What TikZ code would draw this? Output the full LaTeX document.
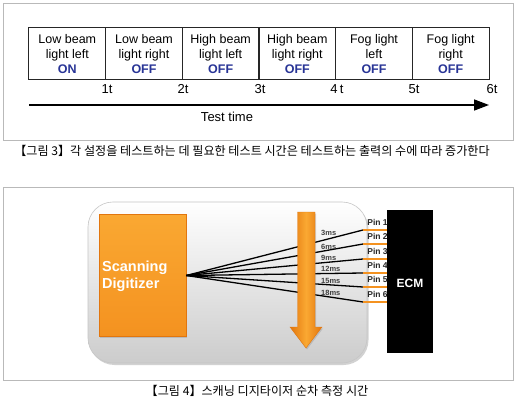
\documentclass[tikz,border=0pt]{standalone}
\usepackage{fontspec}
\setmainfont{Liberation Sans}
\newfontfamily\krfont{Noto Sans CJK KR}
\usetikzlibrary{arrows.meta,shadows}
\definecolor{onblue}{RGB}{40,52,150}
\definecolor{orngl}{RGB}{250,168,50}
\definecolor{orngm}{RGB}{244,146,32}
\definecolor{orngd}{RGB}{226,118,14}
\newcommand\stt[1]{\textbf{\color{onblue}#1}}
\begin{document}
\begin{tikzpicture}[x=1pt,y=-1pt,
  frame/.style={draw=gray!55,line width=0.8pt},
  cell/.style={draw=black!85,line width=1pt,minimum width=76.67pt,minimum height=52pt,inner sep=0pt,align=center,font=\fontsize{12.5}{15}\selectfont},
  tick/.style={font=\fontsize{13}{15}\selectfont,inner sep=0pt},
  caption/.style={font=\krfont\fontsize{12.1}{14}\selectfont,inner sep=0pt},
  panel/.style={rounded corners=25pt,minimum width=279pt,minimum height=161pt,top color=white,bottom color=gray!40,draw=gray!45,line width=0.6pt,drop shadow={opacity=0.35,shadow xshift=1.5pt,shadow yshift=-2pt}},
  digi/.style={minimum width=87pt,minimum height=122pt,top color=orngl,bottom color=orngm,draw=orngd,line width=0.6pt,drop shadow={opacity=0.3,shadow xshift=1pt,shadow yshift=-1.5pt}},
  wire/.style={line width=1.3pt,black},
  pinline/.style={line width=1.4pt,orngm},
  pinlabel/.style={font=\fontsize{8.5}{10}\selectfont\bfseries,inner sep=0pt,text=black!85},
  mslabel/.style={font=\fontsize{7.5}{9}\selectfont\bfseries,inner sep=0pt,anchor=west,text=black!75},
]
\useasboundingbox (0,0) rectangle (520,404);
\fill[white] (0,0) rectangle (520,404);

% ---------- Figure 3 ----------
\draw[frame] (3,3) rectangle (513,140);
\node[cell] (c1) at (67.33,54) {Low beam\\light left\\\stt{ON}};
\node[cell] (c2) at (144.00,54) {Low beam\\light right\\\stt{OFF}};
\node[cell] (c3) at (220.67,54) {High beam\\light left\\\stt{OFF}};
\node[cell] (c4) at (297.33,54) {High beam\\light right\\\stt{OFF}};
\node[cell] (c5) at (374.00,54) {Fog light\\left\\\stt{OFF}};
\node[cell] (c6) at (450.67,54) {Fog light\\right\\\stt{OFF}};
\node[tick] (t1) at (107,89) {1t};
\node[tick] (t2) at (183,89) {2t};
\node[tick] (t3) at (260,89) {3t};
\node[tick] (t4) at (337,89) {4\,t};
\node[tick] (t5) at (414,89) {5t};
\node[tick] (t6) at (492,89) {6t};
\coordinate (as) at (29,105);
\coordinate (ae) at (489,105);
\draw[line width=1.6pt,-{Triangle[length=15pt,width=11pt]}] (as) -- (ae);
\node[tick] (tt) at (227,117) {Test time};
\node[caption] (cap3) at (252,151) {【그림 3】각 설정을 테스트하는 데 필요한 테스트 시간은 테스트하는 출력의 수에 따라 증가한다};

% ---------- Figure 4 ----------
\draw[frame] (3,187) rectangle (513,380);
\node[panel] (panel) at (227.5,282.5) {};
\node[digi] (dig) at (142.5,275.5) {};
\node[anchor=west,align=left,text=white,font=\fontsize{14.5}{17}\selectfont\bfseries,inner sep=0pt] (digtext) at (102,276.5) {Scanning\\Digitizer};
\node[fill=black,minimum width=46pt,minimum height=143pt,inner sep=0pt] (ecm) at (410,281.5) {};
\node[text=white,font=\fontsize{12}{14}\selectfont\bfseries,inner sep=0pt] (ecmtext) at (410,283) {ECM};

\foreach \i/\y in {1/230,2/244,3/259,4/273,5/287,6/302}{
  \coordinate (p\i) at (363,\y);
  \draw[wire] (dig.east) -- (p\i);
  \draw[pinline] (p\i) -- (p\i -| ecm.west);
  \node[pinlabel] (pl\i) at (377.5,\y-7.5) {Pin \i};
}
\node[mslabel] (ms1) at (321,233) {3ms};
\node[mslabel] (ms2) at (321,247) {6ms};
\node[mslabel] (ms3) at (321,257.5) {9ms};
\node[mslabel] (ms4) at (321,268.5) {12ms};
\node[mslabel] (ms5) at (321,281) {15ms};
\node[mslabel] (ms6) at (321,292.5) {18ms};

% orange arrow
\shade[left color=orngd,right color=orngd,middle color=orngl,draw=orngd,line width=0.4pt,drop shadow={opacity=0.3,shadow xshift=1pt,shadow yshift=-1.5pt}]
  (297.5,212) -- (315,212) -- (315,327) -- (322,327) -- (306,348) -- (290,327) -- (297.5,327) -- cycle;

\node[caption] (cap4) at (257,391) {【그림 4】스캐닝 디지타이저 순차 측정 시간};
\end{tikzpicture}
\end{document}
